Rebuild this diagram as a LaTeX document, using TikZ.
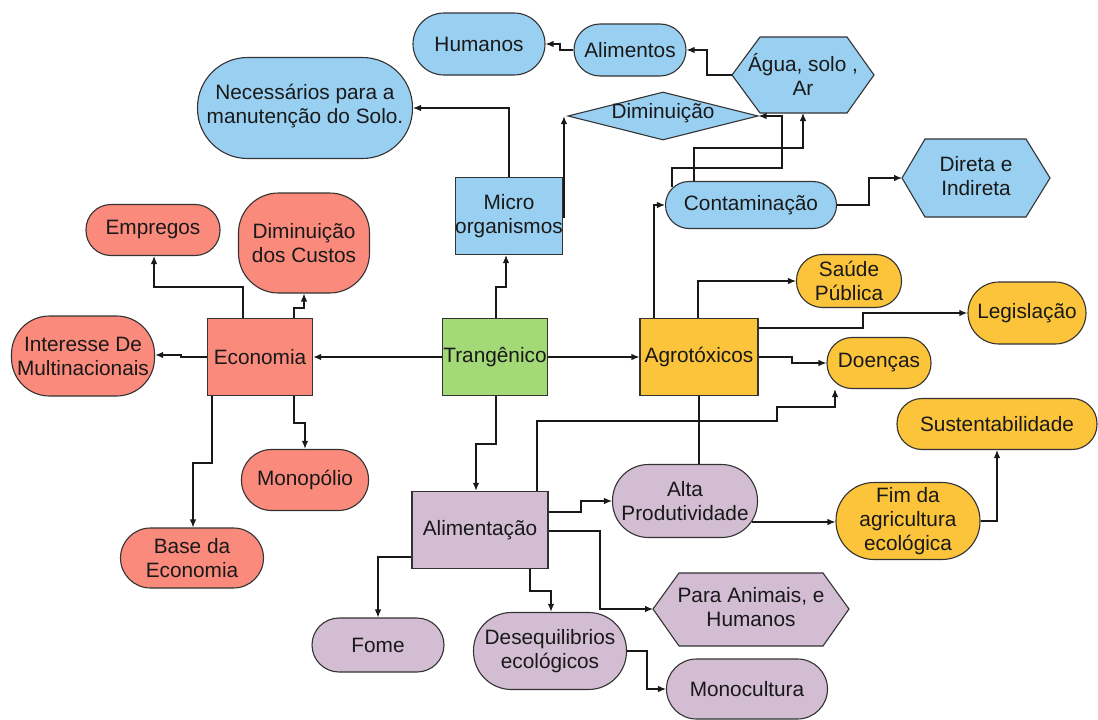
\documentclass[tikz,border=0pt]{standalone}
\usepackage{fontspec}
\setmainfont{Liberation Sans}
\usetikzlibrary{arrows.meta,shapes.geometric}
\definecolor{cblue}{RGB}{153,208,242}
\definecolor{cred}{RGB}{250,138,124}
\definecolor{cgreen}{RGB}{163,217,119}
\definecolor{cyel}{RGB}{251,196,58}
\definecolor{cpur}{RGB}{210,189,211}
\definecolor{edgec}{RGB}{51,51,51}
\definecolor{ink}{RGB}{25,25,25}
\begin{document}
\begin{tikzpicture}[x=1pt,y=-1pt,
  base/.style={draw=edgec, line width=1.1pt, text=ink, font=\fontsize{20.8}{24}\selectfont, align=center, inner sep=0pt},
  txt/.style={text=ink, font=\fontsize{20.8}{24}\selectfont, align=center, inner sep=0pt},
  boxn/.style n args={2}{base, rectangle, minimum width=#1, minimum height=#2},
  pill/.style n args={3}{base, rectangle, rounded corners=#3, minimum width=#1, minimum height=#2},
  hexa/.style={draw=edgec, line width=1.1pt},
  conn/.style={draw=black!90, line width=1.2pt, -{Latex[length=8pt,width=6.5pt]}},
  connt/.style={conn, line width=1.7pt},
  plain/.style={draw=black!90, line width=1.2pt}
]
\fill[white] (0,0) rectangle (1098,720);
\useasboundingbox (0,0) rectangle (1098,720);

% ---------- blue ----------
\node[pill={132}{62}{31}, fill=cblue] (hum) at (479,44) {Humanos};
\node[pill={112}{52}{26}, fill=cblue] (alim) at (630,50) {Alimentos};
\draw[hexa, fill=cblue] (732,75) -- (760,37) -- (847,37) -- (874,75) -- (847,113) -- (760,113) -- cycle;
\coordinate (aguaW) at (732,75);
\coordinate (aguaS) at (803,113);
\node[txt] (agua) at (803,74) {Água, solo ,\\Ar};
\node[base, diamond, aspect=4, fill=cblue, minimum width=190pt, minimum height=48pt] (dimi) at (663,116) {};
\node[txt] (dimit) at (663,113) {Diminuição};
\node[pill={215}{101}{50}, fill=cblue] (nec) at (305,108) {};
\node[txt] (nect) at (305,106) {Necessários para a\\manutenção do Solo.};
\node[boxn={105}{77}, fill=cblue] (micro) at (509,216) {Micro\\organismos};
\node[pill={171}{47}{23.5}, fill=cblue] (cont) at (751,205) {Contaminação};
\draw[hexa, fill=cblue] (902,178) -- (925,139) -- (1026,139) -- (1050,178) -- (1026,217) -- (925,217) -- cycle;
\coordinate (diretaW) at (902,178);
\node[txt] (direta) at (976,176) {Direta e\\Indireta};

% ---------- red ----------
\node[pill={134}{51}{25}, fill=cred] (emp) at (153,230) {Empregos};
\node[pill={131}{100}{40}, fill=cred] (custos) at (304,243) {Diminuição\\dos Custos};
\node[pill={143}{80}{38}, fill=cred] (inter) at (83,356) {Interesse De\\Multinacionais};
\node[boxn={105}{77}, fill=cred] (eco) at (260,357) {Economia};
\node[pill={127}{61}{30}, fill=cred] (mono) at (305,480) {Monopólio};
\node[pill={143}{60}{30}, fill=cred] (basee) at (192,558) {Base da\\Economia};

% ---------- green ----------
\node[boxn={105}{77}, fill=cgreen] (trans) at (495,357) {Trangênico};

% ---------- yellow ----------
\node[boxn={118}{77}, fill=cyel] (agro) at (699,357) {Agrotóxicos};
\node[pill={105}{53}{26}, fill=cyel] (saude) at (849,281) {Saúde\\Pública};
\node[pill={118}{62}{31}, fill=cyel] (legis) at (1027,313) {Legislação};
\node[pill={104}{51}{25}, fill=cyel] (doen) at (879,363) {Doenças};
\node[pill={200}{51}{25}, fill=cyel] (sust) at (997,424) {Sustentabilidade};
\node[pill={144}{77}{38}, fill=cyel] (fim) at (908,521) {Fim da\\agricultura\\ecológica};

% ---------- purple ----------
\node[boxn={136}{77}, fill=cpur] (alimc) at (480,530) {Alimentação};
\node[pill={145}{73}{36}, fill=cpur] (alta) at (685,501) {Alta\\Produtividade};
\draw[hexa, fill=cpur] (653,609) -- (679,573) -- (823,573) -- (849,609) -- (823,646) -- (679,646) -- cycle;
\coordinate (paraW) at (653,609);
\node[txt] (para) at (751,607) {Para Animais, e\\Humanos};
\node[pill={132}{54}{27}, fill=cpur] (fome) at (378,645) {Fome};
\node[pill={153}{77}{38}, fill=cpur] (deseq) at (550,651) {Desequilibrios\\ecológicos};
\node[pill={161}{60}{30}, fill=cpur] (monoc) at (747,689) {Monocultura};

% ---------- connectors ----------
\draw[connt] (trans.west) -- (eco.east);
\draw[conn] (trans.east) -- (agro.west);
\draw[conn] ([xshift=1pt]trans.north) |- (506,287) -- ([xshift=-3pt]micro.south);
\draw[connt] ([xshift=1pt]trans.south) |- (476,444) -- ([xshift=-4pt]alimc.north);

\draw[conn] ([xshift=-17pt]eco.north) |- (154,287) -- ([xshift=1pt]emp.south);
\draw[conn] ([xshift=34pt]eco.north) |- (304,308) -- (custos.south);
\draw[connt] (eco.west) -- (181,357) -- (181,355) -- ([yshift=1pt]inter.east);
\draw[connt] ([xshift=34pt]eco.south) |- (305,423) -- (mono.north);
\draw[conn] ([xshift=-48pt]eco.south) |- (193,463) -- ([xshift=1pt]basee.north);

\draw[conn] (micro.north) |- (nec.east);
\draw[connt] ([yshift=-1pt]micro.east) -| ([xshift=-3.5pt]dimi.west);

\draw[conn] (aguaW) -- (707,75) |- (alim.east);
\draw[conn] (alim.west) -- (560,50) |- (hum.east);

\draw[conn] ([xshift=-79pt,yshift=-6pt]cont.north) |- (782,168) |- (dimi.east);
\draw[conn] ([xshift=-57pt]cont.north) |- (803,148) -- (aguaS);
\draw[conn] (cont.east) -- (869,205) |- (diretaW);

\draw[conn] ([xshift=-45pt]agro.north) |- (cont.west);
\draw[conn] ([xshift=-1pt]agro.north) |- (saude.west);
\draw[connt] ([yshift=29pt]agro.east) -- (863,328) |- (legis.west);
\draw[conn] (agro.east) -- (792,357) |- (doen.west);
\draw[plain] (agro.south) -- (agro.south |- alta.north);

\draw[conn] ([xshift=57pt]alimc.north) |- (777,421) |- (835,407) -- ([xshift=-44pt]doen.south);
\draw[conn] ([yshift=18pt]alimc.east) -- (581,512) |- (alta.west);
\draw[conn] ([xshift=-6pt,yshift=-21pt]alta.east) -- ([yshift=-21pt]alta.east -| fim.west);
\draw[conn] (fim.east) -| (sust.south);
\draw[conn] ([yshift=-1pt]alimc.east) -- (600,531) |- (paraW);
\draw[connt] ([xshift=50pt]alimc.south) |- (551,591) -- ([xshift=1pt]deseq.north);
\draw[conn] ([yshift=-27pt]alimc.west) -| (fome.north);
\draw[conn] (deseq.east) -- (647,651) |- (monoc.west);
\end{tikzpicture}
\end{document}
